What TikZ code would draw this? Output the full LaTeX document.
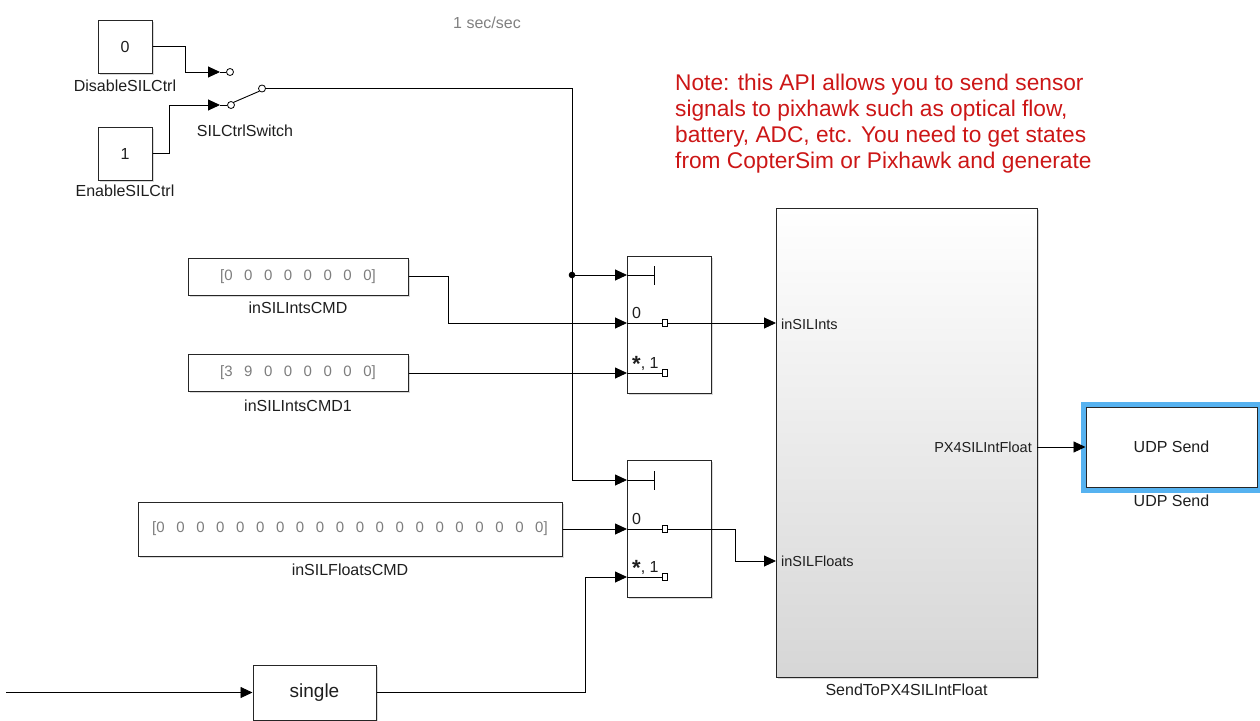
\documentclass[tikz,border=0pt]{standalone}
\usepackage{fontspec}
\setmainfont{Liberation Sans}
\usetikzlibrary{arrows.meta,shadows,fit}
\definecolor{notered}{RGB}{204,22,22}
\definecolor{selblue}{RGB}{86,178,240}
\definecolor{constgray}{RGB}{125,125,125}
\definecolor{txt}{RGB}{30,30,30}
\begin{document}
\begin{tikzpicture}[x=1pt,y=-1pt,
  blk/.style={draw=black!85, line width=1pt, fill=white, inner sep=0pt,
    drop shadow={shadow xshift=1.5pt,shadow yshift=-1.5pt,opacity=0.3}},
  sig/.style={line width=0.9pt, -{Triangle[length=12pt,width=11pt]}},
  wire/.style={line width=0.9pt},
  lbl/.style={font=\fontsize{16}{19}\selectfont, text=txt},
  port/.style={font=\fontsize{14.5}{17}\selectfont, text=txt, inner sep=0pt},
  term/.style={circle, draw, fill=white, line width=0.8pt, inner sep=0pt, minimum size=7pt},
  sq/.style={draw, fill=white, line width=0.8pt, inner sep=0pt, minimum width=5pt, minimum height=7pt},
  vec/.style={font=\fontsize{15}{18}\selectfont, text=constgray},
  notetxt/.style={font=\fontsize{22.7}{26}\selectfont, text=notered, anchor=base west, inner sep=0pt}
]
\clip (0,0) rectangle (1260,720);
\useasboundingbox (0,0) rectangle (1260,720);

% simulation time text
\node[font=\fontsize{16}{19}\selectfont, text=black!50] (time) at (487,23) {1 sec/sec};

% note
\node[notetxt] (n1) at (675,90) {Note: this API allows you to send sensor};
\node[notetxt] (n2) at (675,116) {signals to pixhawk such as optical flow,};
\node[notetxt] (n3) at (675,142) {battery, ADC, etc. You need to get states};
\node[notetxt] (n4) at (675,168) {from CopterSim or Pixhawk and generate};

% constants
\node[blk, lbl, minimum width=54pt, minimum height=53pt] (k0) at (125,46.5) {0};
\node[lbl] (k0l) at (125,86) {DisableSILCtrl};
\node[blk, lbl, minimum width=54pt, minimum height=53pt] (k1) at (125,153.5) {1};
\node[lbl] (k1l) at (125,191) {EnableSILCtrl};

% manual switch
\node[term] (c0) at (230,72) {};
\node[term] (cin) at (231,105) {};
\node[term] (cout) at (262,88.5) {};
\coordinate (t0) at (220,72);
\coordinate (t1) at (220,105);
\draw[wire] (t0) -- (c0.west);
\draw[wire] (t1) -- (cin.west);
\draw[wire] (cin.north east) -- (cout.south west);
\node[lbl] (swl) at (245,131) {SILCtrlSwitch};
\draw[sig] (k0.east) -- (185,46.5) |- (t0);
\draw[sig] (k1.east) -- (169,153.5) |- (t1);

% multiport switches
\node[blk, minimum width=84pt, minimum height=137pt] (sw1) at (669,324.5) {};
\node[blk, minimum width=84pt, minimum height=137pt] (sw2) at (669,528.5) {};
\coordinate (sw1c) at (627,275);
\coordinate (sw1a) at (627,323);
\coordinate (sw1b) at (627,373);
\coordinate (sw1o) at (711,323);
\coordinate (sw2c) at (627,480);
\coordinate (sw2a) at (627,529);
\coordinate (sw2b) at (627,577);
\coordinate (sw2o) at (711,529);

\def\star{\raisebox{-3.5pt}{\fontsize{22}{22}\selectfont\bfseries *}}
\draw[wire] (sw1c) -- (654,275); \draw[wire] (654,266) -- (654,285);
\draw[wire] (sw1a) -- (sw1o); \node[sq] (q1a) at (665,323) {};
\draw[wire] (sw1b) -- (662,373); \node[sq] (q1b) at (665,373) {};
\node[lbl, anchor=west, inner sep=0pt] (s1l0) at (632,313) {0};
\node[lbl, anchor=base west, inner sep=0pt] (s1l1) at (632,368) {\star, 1};

\draw[wire] (sw2c) -- (654,480); \draw[wire] (654,471) -- (654,490);
\draw[wire] (sw2a) -- (sw2o); \node[sq] (q2a) at (665,529) {};
\draw[wire] (sw2b) -- (662,577); \node[sq] (q2b) at (665,577) {};
\node[lbl, anchor=west, inner sep=0pt] (s2l0) at (632,519) {0};
\node[lbl, anchor=base west, inner sep=0pt] (s2l1) at (632,572) {\star, 1};

% control signal
\coordinate (bend1) at (572,88.5);
\coordinate (j) at (572,275);
\coordinate (bend2) at (572,480);
\draw[sig] (cout.east) -- (bend1) -- (bend2) -- (sw2c);
\draw[sig] (j) -- (sw1c);
\fill (j) circle (3.3pt);

% vector constants
\def\gp{\hspace{11.5pt}}
\def\gf{\hspace{11.6pt}}
\node[blk, minimum width=220pt, minimum height=37pt, vec] (ints) at (298,276.5)
  {[0\gp0\gp0\gp0\gp0\gp0\gp0\gp0]};
\node[lbl] (intsl) at (298,308) {inSILIntsCMD};
\node[blk, minimum width=220pt, minimum height=37pt, vec] (ints1) at (298,373)
  {[3\gp9\gp0\gp0\gp0\gp0\gp0\gp0]};
\node[lbl] (ints1l) at (298,406) {inSILIntsCMD1};
\node[blk, minimum width=424pt, minimum height=54pt, vec] (flts) at (350,529)
  {[0\gf0\gf0\gf0\gf0\gf0\gf0\gf0\gf0\gf0\gf0\gf0\gf0\gf0\gf0\gf0\gf0\gf0\gf0\gf0]};
\node[lbl] (fltsl) at (350,570) {inSILFloatsCMD};

\draw[sig] (ints.east) -- (448,276.5) |- (sw1a);
\draw[sig] (ints1.east) -- (sw1b);
\draw[sig] (flts.east) -- (sw2a);

% single
\node[blk, minimum width=123pt, minimum height=55pt, font=\fontsize{19}{22}\selectfont, text=txt] (single) at (314.5,692.5) {single};
\coordinate (lin) at (6,692.5);
\draw[sig] (lin) -- (single.west);
\draw[sig] (single.east) -- (585,692.5) |- (sw2b);

% subsystem
\node[blk, minimum width=261pt, minimum height=469pt, top color=white, middle color=black!2, bottom color=black!16] (send) at (906.5,442.5) {};
\node[lbl] (sendl) at (906.5,690) {SendToPX4SILIntFloat};
\coordinate (pin1) at (776,323);
\coordinate (pin2) at (776,561);
\coordinate (pout) at (1037,447);
\node[port, anchor=west] (pl1) at (781,324) {inSILInts};
\node[port, anchor=west] (pl2) at (781,561) {inSILFloats};
\node[port, anchor=east] (pl3) at (1032,447) {PX4SILIntFloat};
\draw[sig] (sw1o) -- (pin1);
\draw[sig] (sw2o) -- (735,529) |- (pin2);

% UDP send
\node[blk, lbl, minimum width=171pt, minimum height=80pt] (udp) at (1171.5,447) {UDP Send};
\node[draw=selblue, line width=5pt, inner sep=2.5pt, fit=(udp)] (udpsel) {};
\node[lbl] (udpl) at (1171.5,501) {UDP Send};
\draw[sig] (pout) -- (udp.west);
\end{tikzpicture}
\end{document}
